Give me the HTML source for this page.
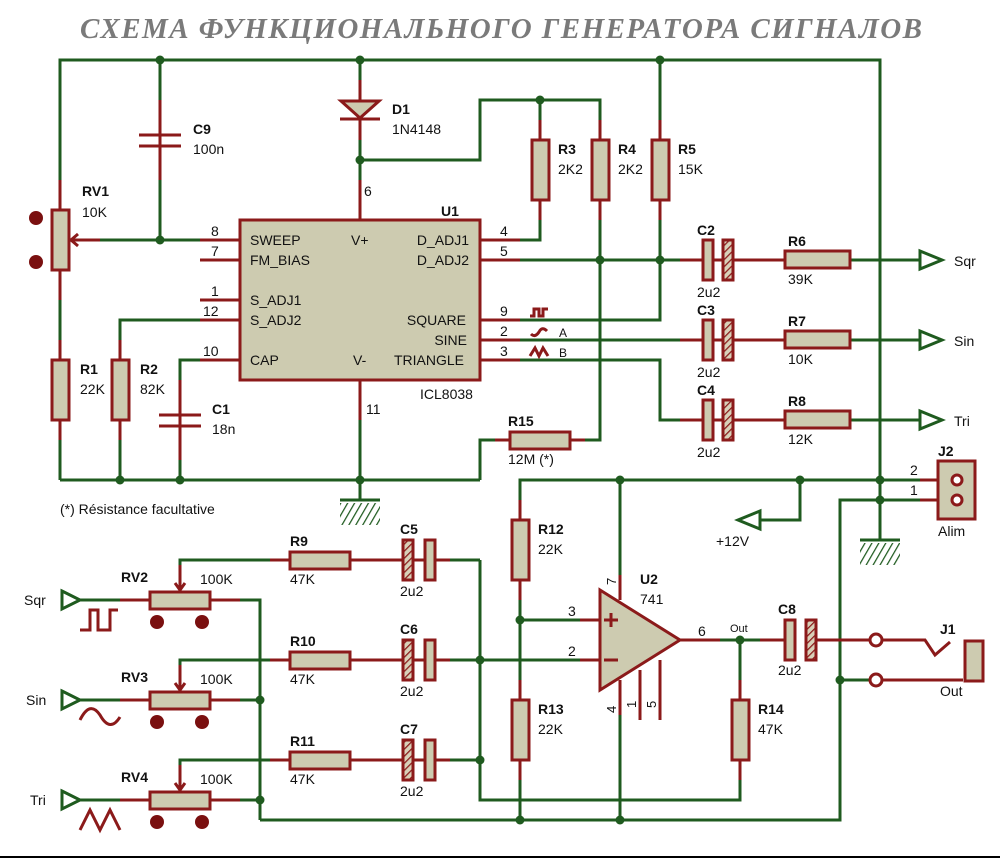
<!DOCTYPE html>
<html><head><meta charset="utf-8"><style>
html,body{margin:0;padding:0;background:#fff;}
svg{display:block;}
text{font-family:"Liberation Sans",sans-serif;fill:#111;}
.b{font-weight:bold;}
</style></head><body>
<svg width="1000" height="860" viewBox="0 0 1000 860" xmlns="http://www.w3.org/2000/svg">
<defs>
<pattern id="h" width="5" height="5" patternUnits="userSpaceOnUse" patternTransform="rotate(45)"><rect width="5" height="5" fill="#d8d0b8"/><line x1="0" y1="0" x2="0" y2="5" stroke="#8b1a1a" stroke-width="2.5"/></pattern>
<pattern id="g" width="6" height="6" patternUnits="userSpaceOnUse" patternTransform="rotate(30)"><line x1="0" y1="0" x2="0" y2="6" stroke="#1f5b1f" stroke-width="2.5"/></pattern>
</defs>
<rect x="0" y="0" width="1000" height="860" fill="#fff"/>
<line x1="0" y1="857" x2="1000" y2="857" stroke="#000" stroke-width="2"/>
<text x="501" y="38" text-anchor="middle" style="font-family:'Liberation Serif',serif;font-style:italic;font-weight:bold;font-size:29px;fill:#7a7a7a" textLength="842">СХЕМА  ФУНКЦИОНАЛЬНОГО  ГЕНЕРАТОРА  СИГНАЛОВ</text>

<g stroke="#1f5b1f" stroke-width="3" fill="none">
<polyline points="60,210 60,60 880,60 880,500"/>
<line x1="60" y1="270" x2="60" y2="480"/>
<line x1="60" y1="480" x2="480" y2="480"/>
<line x1="160" y1="60" x2="160" y2="240"/>
<line x1="90" y1="240" x2="200" y2="240"/>
<polyline points="120,480 120,320 200,320"/>
<polyline points="180,480 180,360 200,360"/>
<line x1="360" y1="60" x2="360" y2="200"/>
<polyline points="360,160 480,160 480,100 600,100 600,440 570,440"/>
<polyline points="540,100 540,240 520,240"/>
<polyline points="660,60 660,320 520,320"/>
<line x1="520" y1="260" x2="700" y2="260"/>
<line x1="520" y1="340" x2="700" y2="340"/>
<polyline points="520,360 660,360 660,420 700,420"/>
<line x1="850" y1="260" x2="920" y2="260"/>
<line x1="850" y1="340" x2="920" y2="340"/>
<line x1="850" y1="420" x2="920" y2="420"/>
<polyline points="510,440 480,440 480,480"/>
<line x1="360" y1="380" x2="360" y2="500"/>
<polyline points="520,520 520,480 958,480"/>
<polyline points="800,480 800,520 760,520"/>
<polyline points="840,680 840,500 958,500"/>
<line x1="880" y1="500" x2="880" y2="540"/>
<line x1="520" y1="580" x2="520" y2="700"/>
<line x1="520" y1="620" x2="600" y2="620"/>
<line x1="520" y1="760" x2="520" y2="820"/>
<line x1="620" y1="480" x2="620" y2="600"/>
<line x1="620" y1="680" x2="620" y2="820"/>
<polyline points="260,820 840,820 840,680 870,680"/>
<polyline points="480,560 480,800 740,800 740,760"/>
<line x1="480" y1="660" x2="600" y2="660"/>
<line x1="680" y1="640" x2="785" y2="640"/>
<line x1="740" y1="640" x2="740" y2="700"/>
<line x1="816" y1="640" x2="870" y2="640"/>
<polyline points="150,600 80,600"/><polyline points="150,700 80,700"/><polyline points="150,800 80,800"/>
<polyline points="210,600 260,600 260,820"/>
<line x1="210" y1="700" x2="260" y2="700"/><line x1="210" y1="800" x2="260" y2="800"/>
<polyline points="180,580 180,560 290,560"/><polyline points="180,680 180,660 290,660"/><polyline points="180,780 180,760 290,760"/>
<line x1="350" y1="560" x2="400" y2="560"/><line x1="350" y1="660" x2="400" y2="660"/><line x1="350" y1="760" x2="400" y2="760"/>
<polyline points="437,560 480,560"/><line x1="437" y1="660" x2="480" y2="660"/><line x1="437" y1="760" x2="480" y2="760"/>
<line x1="733" y1="260" x2="785" y2="260"/><line x1="733" y1="340" x2="785" y2="340"/><line x1="733" y1="420" x2="785" y2="420"/>
<polygon points="920,251 942,260 920,269"/><polygon points="920,331 942,340 920,349"/><polygon points="920,411 942,420 920,429"/>
<polygon points="760,511 738,520 760,529"/>
<polygon points="62,591 80,600 62,609"/><polygon points="62,691 80,700 62,709"/><polygon points="62,791 80,800 62,809"/>
</g>
<g stroke="#8b1a1a" stroke-width="3" fill="none">
<line x1="200" y1="240" x2="240" y2="240"/><line x1="200" y1="260" x2="240" y2="260"/><line x1="200" y1="300" x2="240" y2="300"/><line x1="200" y1="320" x2="240" y2="320"/><line x1="200" y1="360" x2="240" y2="360"/>
<line x1="480" y1="240" x2="520" y2="240"/><line x1="480" y1="260" x2="520" y2="260"/><line x1="480" y1="320" x2="520" y2="320"/><line x1="480" y1="340" x2="520" y2="340"/><line x1="480" y1="360" x2="520" y2="360"/>
<line x1="360" y1="180" x2="360" y2="220"/><line x1="360" y1="380" x2="360" y2="420"/>
<line x1="160" y1="100" x2="160" y2="180"/>
<line x1="360" y1="80" x2="360" y2="140"/>
<line x1="60" y1="180" x2="60" y2="300"/><line x1="60" y1="340" x2="60" y2="440"/><line x1="120" y1="340" x2="120" y2="440"/><line x1="180" y1="380" x2="180" y2="460"/>
<line x1="540" y1="120" x2="540" y2="220"/><line x1="600" y1="120" x2="600" y2="220"/><line x1="660" y1="120" x2="660" y2="220"/>
<line x1="680" y1="260" x2="840" y2="260"/><line x1="680" y1="340" x2="840" y2="340"/><line x1="680" y1="420" x2="840" y2="420"/>
<line x1="70" y1="240" x2="100" y2="240"/><polyline points="78,234 71,240 78,246"/>
<line x1="495" y1="440" x2="585" y2="440"/>
<line x1="520" y1="500" x2="520" y2="600"/><line x1="520" y1="680" x2="520" y2="780"/>
<line x1="120" y1="600" x2="240" y2="600"/><line x1="120" y1="700" x2="240" y2="700"/><line x1="120" y1="800" x2="240" y2="800"/>
<line x1="180" y1="565" x2="180" y2="590"/><polyline points="175,583 180,590 185,583"/>
<line x1="180" y1="665" x2="180" y2="690"/><polyline points="175,683 180,690 185,683"/>
<line x1="180" y1="765" x2="180" y2="790"/><polyline points="175,783 180,790 185,783"/>
<line x1="270" y1="560" x2="450" y2="560"/><line x1="270" y1="660" x2="450" y2="660"/><line x1="270" y1="760" x2="450" y2="760"/>
<line x1="580" y1="620" x2="600" y2="620"/><line x1="580" y1="660" x2="600" y2="660"/>
<line x1="620" y1="575" x2="620" y2="600"/><line x1="620" y1="680" x2="620" y2="715"/>
<line x1="640" y1="670" x2="640" y2="720"/><line x1="660" y1="660" x2="660" y2="720"/>
<line x1="680" y1="640" x2="720" y2="640"/><line x1="760" y1="640" x2="790" y2="640"/><line x1="810" y1="640" x2="870" y2="640"/>
<line x1="740" y1="680" x2="740" y2="780"/>
<line x1="920" y1="480" x2="958" y2="480"/><line x1="920" y1="500" x2="958" y2="500"/>
<polyline points="882,640 925,640 935,655 950,642"/>
<line x1="882" y1="680" x2="963" y2="680"/>
</g>
<g fill="#cdcbb0" stroke="#8b1a1a" stroke-width="3">
<rect x="240" y="220" width="240" height="160"/>
<rect x="52" y="210" width="17" height="60"/>
<rect x="52" y="360" width="17" height="60"/>
<rect x="112" y="360" width="17" height="60"/>
<rect x="532" y="140" width="17" height="60"/>
<rect x="592" y="140" width="17" height="60"/>
<rect x="652" y="140" width="17" height="60"/>
<rect x="785" y="251" width="65" height="17"/>
<rect x="785" y="331" width="65" height="17"/>
<rect x="785" y="411" width="65" height="17"/>
<rect x="510" y="432" width="60" height="17"/>
<rect x="512" y="520" width="17" height="60"/>
<rect x="512" y="700" width="17" height="60"/>
<rect x="732" y="700" width="17" height="60"/>
<rect x="150" y="592" width="60" height="17"/><rect x="150" y="692" width="60" height="17"/><rect x="150" y="792" width="60" height="17"/>
<rect x="290" y="552" width="60" height="17"/><rect x="290" y="652" width="60" height="17"/><rect x="290" y="752" width="60" height="17"/>
<rect x="703" y="240" width="10" height="40"/><rect x="703" y="320" width="10" height="40"/><rect x="703" y="400" width="10" height="40"/>
<rect x="425" y="540" width="10" height="40"/><rect x="425" y="640" width="10" height="40"/><rect x="425" y="740" width="10" height="40"/>
<rect x="785" y="620" width="10" height="40"/>
<rect x="938" y="461" width="37" height="58"/>
<rect x="965" y="641" width="18" height="40"/>
<polygon points="600,590 680,640 600,690"/>
<polygon points="341,101 379,101 360,118"/>
</g>
<g fill="url(#h)" stroke="#8b1a1a" stroke-width="3">
<rect x="723" y="240" width="10" height="40"/><rect x="723" y="320" width="10" height="40"/><rect x="723" y="400" width="10" height="40"/>
<rect x="403" y="540" width="10" height="40"/><rect x="403" y="640" width="10" height="40"/><rect x="403" y="740" width="10" height="40"/>
<rect x="806" y="620" width="10" height="40"/>
</g>
<g stroke="#8b1a1a" stroke-width="3" fill="none">
<line x1="340" y1="119" x2="380" y2="119"/>
<line x1="139" y1="135" x2="181" y2="135"/><line x1="139" y1="146" x2="181" y2="146"/>
<line x1="159" y1="415" x2="201" y2="415"/><line x1="159" y1="426" x2="201" y2="426"/>
<line x1="604" y1="620" x2="618" y2="620"/><line x1="611" y1="613" x2="611" y2="627"/>
<line x1="604" y1="660" x2="618" y2="660"/>
<polyline points="530,316 534,316 534,309 539,309 539,316 543,316 543,309 548,309"/>
<path d="M531,334 q4,4 8,-2 q3,-6 8,-1"/>
<polyline points="530,356 535,348 539,356 543,348 548,356"/>
<polyline points="80,630 90,630 90,610 98,610 98,630 110,630 110,610 118,610"/>
<path d="M80,720 q10,-20 20,-5 q10,18 20,2"/>
<polyline points="80,830 90,810 100,830 110,810 120,830"/>
</g>
<g fill="#fff" stroke="#8b1a1a" stroke-width="3">
<circle cx="957" cy="480" r="5"/><circle cx="957" cy="500" r="5"/>
<circle cx="876" cy="640" r="6"/><circle cx="876" cy="680" r="6"/>
</g>
<g fill="#7a1010">
<circle cx="36" cy="218" r="7"/><circle cx="36" cy="262" r="7"/>
<circle cx="157" cy="622" r="7"/><circle cx="202" cy="622" r="7"/>
<circle cx="157" cy="722" r="7"/><circle cx="202" cy="722" r="7"/>
<circle cx="157" cy="822" r="7"/><circle cx="202" cy="822" r="7"/>
</g>
<g stroke="#1f5b1f" stroke-width="3">
<line x1="340" y1="500" x2="380" y2="500"/><line x1="860" y1="540" x2="900" y2="540"/>
</g>
<rect x="340" y="503" width="40" height="22" fill="url(#g)"/>
<rect x="860" y="543" width="40" height="22" fill="url(#g)"/>
<g fill="#1f5b1f">
<circle cx="160" cy="60" r="4.5"/><circle cx="360" cy="60" r="4.5"/><circle cx="660" cy="60" r="4.5"/>
<circle cx="160" cy="240" r="4.5"/><circle cx="360" cy="160" r="4.5"/><circle cx="540" cy="100" r="4.5"/>
<circle cx="600" cy="260" r="4.5"/><circle cx="660" cy="260" r="4.5"/>
<circle cx="120" cy="480" r="4.5"/><circle cx="180" cy="480" r="4.5"/><circle cx="360" cy="480" r="4.5"/>
<circle cx="620" cy="480" r="4.5"/><circle cx="800" cy="480" r="4.5"/><circle cx="880" cy="480" r="4.5"/><circle cx="880" cy="500" r="4.5"/>
<circle cx="520" cy="620" r="4.5"/><circle cx="480" cy="660" r="4.5"/><circle cx="480" cy="760" r="4.5"/>
<circle cx="740" cy="640" r="4.5"/><circle cx="840" cy="680" r="4.5"/>
<circle cx="520" cy="820" r="4.5"/><circle cx="620" cy="820" r="4.5"/>
<circle cx="260" cy="700" r="4.5"/><circle cx="260" cy="800" r="4.5"/>
</g>
<g font-size="14">
<text x="392" y="114" class="b">D1</text><text x="392" y="134">1N4148</text>
<text x="193" y="134" class="b">C9</text><text x="193" y="154">100n</text>
<text x="82" y="196" class="b">RV1</text><text x="82" y="217">10K</text>
<text x="80" y="374" class="b">R1</text><text x="80" y="394">22K</text>
<text x="140" y="374" class="b">R2</text><text x="140" y="394">82K</text>
<text x="212" y="414" class="b">C1</text><text x="212" y="434">18n</text>
<text x="441" y="216" class="b">U1</text><text x="420" y="399">ICL8038</text>
<text x="364" y="196">6</text><text x="366" y="414">11</text>
<text x="211" y="236">8</text><text x="211" y="256">7</text><text x="211" y="296">1</text><text x="203" y="316">12</text><text x="203" y="356">10</text>
<text x="500" y="236">4</text><text x="500" y="256">5</text><text x="500" y="316">9</text><text x="500" y="336">2</text><text x="500" y="356">3</text>
<text x="250" y="245">SWEEP</text><text x="250" y="265">FM_BIAS</text><text x="250" y="305">S_ADJ1</text><text x="250" y="325">S_ADJ2</text><text x="250" y="365">CAP</text>
<text x="351" y="245">V+</text><text x="353" y="365">V-</text>
<text x="469" y="245" text-anchor="end">D_ADJ1</text><text x="469" y="265" text-anchor="end">D_ADJ2</text>
<text x="466" y="325" text-anchor="end">SQUARE</text><text x="467" y="345" text-anchor="end">SINE</text><text x="464" y="365" text-anchor="end">TRIANGLE</text>
<text x="559" y="337" font-size="12">A</text><text x="559" y="357" font-size="12">B</text>
<text x="558" y="154" class="b">R3</text><text x="558" y="174">2K2</text>
<text x="618" y="154" class="b">R4</text><text x="618" y="174">2K2</text>
<text x="678" y="154" class="b">R5</text><text x="678" y="174">15K</text>
<text x="697" y="235" class="b">C2</text><text x="697" y="297">2u2</text>
<text x="697" y="315" class="b">C3</text><text x="697" y="377">2u2</text>
<text x="697" y="395" class="b">C4</text><text x="697" y="457">2u2</text>
<text x="788" y="246" class="b">R6</text><text x="788" y="284">39K</text>
<text x="788" y="326" class="b">R7</text><text x="788" y="364">10K</text>
<text x="788" y="406" class="b">R8</text><text x="788" y="444">12K</text>
<text x="954" y="266">Sqr</text><text x="954" y="346">Sin</text><text x="954" y="426">Tri</text>
<text x="508" y="426" class="b">R15</text><text x="508" y="464">12M  (*)</text>
<text x="938" y="456" class="b">J2</text><text x="938" y="536">Alim</text>
<text x="910" y="475">2</text><text x="910" y="495">1</text>
<text x="716" y="546">+12V</text>
<text x="60" y="514">(*) Résistance facultative</text>
<text x="538" y="534" class="b">R12</text><text x="538" y="554">22K</text>
<text x="538" y="714" class="b">R13</text><text x="538" y="734">22K</text>
<text x="758" y="714" class="b">R14</text><text x="758" y="734">47K</text>
<text x="640" y="584" class="b">U2</text><text x="640" y="604">741</text>
<text x="568" y="616">3</text><text x="568" y="656">2</text><text x="698" y="636">6</text>
<text x="730" y="632" font-size="11">Out</text>
<text x="778" y="614" class="b">C8</text><text x="778" y="675">2u2</text>
<text x="940" y="634" class="b">J1</text><text x="940" y="696">Out</text>
<text transform="translate(616,585) rotate(-90)" font-size="13">7</text>
<text transform="translate(616,713) rotate(-90)" font-size="13">4</text>
<text transform="translate(636,708) rotate(-90)" font-size="13">1</text>
<text transform="translate(656,708) rotate(-90)" font-size="13">5</text>
<text x="121" y="582" class="b">RV2</text><text x="200" y="584">100K</text>
<text x="121" y="682" class="b">RV3</text><text x="200" y="684">100K</text>
<text x="121" y="782" class="b">RV4</text><text x="200" y="784">100K</text>
<text x="24" y="605">Sqr</text><text x="26" y="705">Sin</text><text x="30" y="805">Tri</text>
<text x="290" y="546" class="b">R9</text><text x="290" y="584">47K</text>
<text x="290" y="646" class="b">R10</text><text x="290" y="684">47K</text>
<text x="290" y="746" class="b">R11</text><text x="290" y="784">47K</text>
<text x="400" y="534" class="b">C5</text><text x="400" y="596">2u2</text>
<text x="400" y="634" class="b">C6</text><text x="400" y="696">2u2</text>
<text x="400" y="734" class="b">C7</text><text x="400" y="796">2u2</text>
</g>
</svg>
</body></html>
